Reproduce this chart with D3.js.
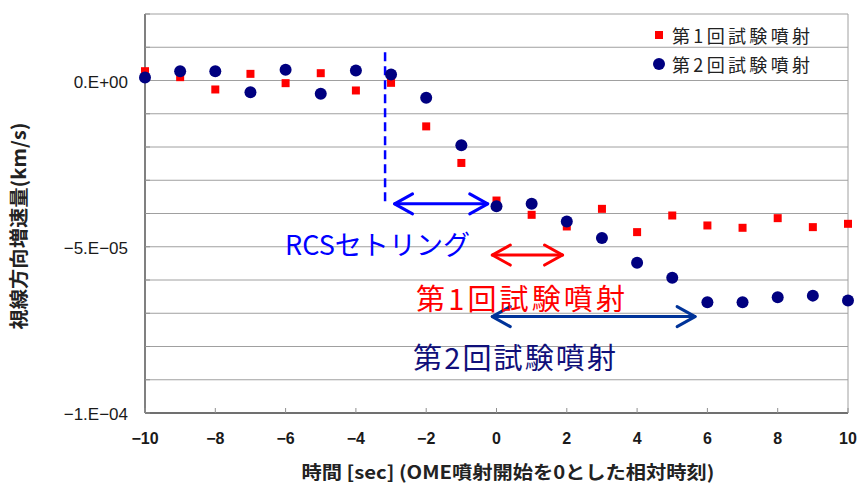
<!doctype html>
<html lang="ja">
<head>
  <meta charset="utf-8">
  <title>視線方向増速量</title>
  <style>
    body { margin: 0; background: #fff; }
    svg { display: block; }
    .grid line { stroke: #a0a0a0; stroke-width: 1; }
    .tick-lbl { font-family: "Liberation Sans", Arial, sans-serif; font-size: 17px; fill: #1a1a1a; }
    .jp { font-family: "Noto Sans CJK JP", sans-serif; }
  </style>
</head>
<body>
  <div id="chart"></div>
  <script src="https://d3js.org/d3.v7.min.js"></script>
  <script>
    // time [sec] relative to OME firing start
    const times = [-10, -9, -8, -7, -6, -5, -4, -3, -2, -1, 0, 1, 2, 3, 4, 5, 6, 7, 8, 9, 10];
    // line-of-sight delta-V, units of 1e-6 km/s
    const firing1 = [2.8, 1.0, -2.7, 2.0, -0.8, 2.2, -3.0, -0.7, -13.8, -24.8, -36.1, -40.4, -43.9, -38.6, -45.6, -40.6, -43.6, -44.3, -41.4, -44.1, -43.1];
    const firing2 = [0.9, 2.8, 2.8, -3.5, 3.2, -4.0, 3.0, 1.8, -5.2, -19.5, -37.8, -37.1, -42.4, -47.4, -54.8, -59.3, -66.7, -66.7, -65.2, -64.7, -66.2];
    const xTicks = [-10, -8, -6, -4, -2, 0, 2, 4, 6, 8, 10];
    const yTickLabels = [[0, '0.E+00'], [-50e-6, '\u22125.E\u221205'], [-100e-6, '\u22121.E\u221204']];
    const seriesNames = ['第1回試験噴射', '第2回試験噴射'];

    const width = 860, height = 488;
    const margin = { left: 145, right: 12, top: 14, bottom: 75 };

    const svg = d3.select('#chart').append('svg')
      .attr('width', width)
      .attr('height', height);

    const x = d3.scaleLinear().domain([-10, 10]).range([margin.left, width - margin.right]);
    const y = d3.scaleLinear().domain([-100e-6, 20e-6]).range([height - margin.bottom, margin.top]);

    // horizontal grid every 1e-5
    const gridVals = d3.range(-100e-6, 20.1e-6, 10e-6);
    svg.append('g').attr('class', 'grid')
      .selectAll('line')
      .data(gridVals)
      .join('line')
      .attr('x1', x(-10)).attr('x2', x(10))
      .attr('y1', d => y(d)).attr('y2', d => y(d));

    // right border
    svg.append('line')
      .attr('x1', x(10)).attr('x2', x(10))
      .attr('y1', y(20e-6)).attr('y2', y(-100e-6))
      .attr('stroke', '#a0a0a0');

    // left and bottom axis lines
    svg.append('line')
      .attr('x1', x(-10)).attr('x2', x(-10))
      .attr('y1', y(20e-6)).attr('y2', y(-100e-6))
      .attr('stroke', '#808080').attr('stroke-width', 2);
    svg.append('line')
      .attr('x1', x(-10)).attr('x2', x(10))
      .attr('y1', y(-100e-6)).attr('y2', y(-100e-6))
      .attr('stroke', '#707070').attr('stroke-width', 2);

    // small inner tick marks
    svg.append('g').selectAll('line')
      .data(xTicks)
      .join('line')
      .attr('x1', d => x(d)).attr('x2', d => x(d))
      .attr('y1', y(-100e-6)).attr('y2', y(-100e-6) - 5)
      .attr('stroke', '#909090');
    svg.append('g').selectAll('line')
      .data(gridVals)
      .join('line')
      .attr('x1', x(-10)).attr('x2', x(-10) + 5)
      .attr('y1', d => y(d)).attr('y2', d => y(d))
      .attr('stroke', '#909090');

    // tick labels
    svg.append('g').selectAll('text')
      .data(xTicks)
      .join('text')
      .attr('class', 'tick-lbl')
      .attr('x', d => x(d))
      .attr('y', y(-100e-6) + 31)
      .attr('text-anchor', 'middle')
      .attr('font-weight', 'bold')
      .style('font-size', '16px')
      .text(d => d < 0 ? '\u2212' + Math.abs(d) : d);

    svg.append('g').selectAll('text')
      .data(yTickLabels)
      .join('text')
      .attr('class', 'tick-lbl')
      .attr('x', x(-10) - 17)
      .attr('y', d => y(d[0]) + 7)
      .attr('text-anchor', 'end')
      .text(d => d[1]);

    // axis titles
    svg.append('text')
      .attr('class', 'jp')
      .attr('transform', `translate(26,${226}) rotate(-90)`)
      .attr('text-anchor', 'middle')
      .attr('font-size', 19).attr('font-weight', 'bold').attr('fill', '#222')
      .attr('textLength', 207).attr('lengthAdjust', 'spacingAndGlyphs')
      .text('視線方向増速量(km/s)');

    svg.append('text')
      .attr('class', 'jp')
      .attr('x', 508).attr('y', 479)
      .attr('text-anchor', 'middle')
      .attr('font-size', 18).attr('font-weight', 'bold').attr('fill', '#222')
      .attr('textLength', 413).attr('lengthAdjust', 'spacingAndGlyphs')
      .text('時間 [sec] (OME噴射開始を0とした相対時刻)');

    // dashed vertical line (RCS settling start)
    svg.append('line')
      .attr('x1', x(-3.17)).attr('x2', x(-3.17))
      .attr('y1', y(8.5e-6)).attr('y2', y(-37e-6))
      .attr('stroke', '#0000ff').attr('stroke-width', 2.5)
      .attr('stroke-dasharray', '9,5');

    // data points
    const s1 = times.map((t, i) => ({ t, v: firing1[i] * 1e-6 }));
    const s2 = times.map((t, i) => ({ t, v: firing2[i] * 1e-6 }));

    svg.append('g').selectAll('rect')
      .data(s1)
      .join('rect')
      .attr('x', d => x(d.t) - 4)
      .attr('y', d => y(d.v) - 4)
      .attr('width', 8).attr('height', 8)
      .attr('fill', '#ff0000');

    svg.append('g').selectAll('circle')
      .data(s2)
      .join('circle')
      .attr('cx', d => x(d.t))
      .attr('cy', d => y(d.v))
      .attr('r', 6)
      .attr('fill', '#000080');

    // double headed arrows
    function arrow(x0, x1, yv, color, w) {
      const g = svg.append('g')
        .attr('stroke', color).attr('stroke-width', w)
        .attr('fill', 'none').attr('stroke-linecap', 'round').attr('stroke-linejoin', 'round');
      const a = x(x0), b = x(x1), yy = y(yv);
      g.append('line').attr('x1', a).attr('x2', b).attr('y1', yy).attr('y2', yy);
      g.append('path').attr('d', `M${a + 18},${yy - 10}L${a},${yy}L${a + 18},${yy + 10}`);
      g.append('path').attr('d', `M${b - 18},${yy - 10}L${b},${yy}L${b - 18},${yy + 10}`);
    }
    arrow(-2.9, -0.25, -37.1e-6, '#0000ff', 3);
    arrow(-0.12, 1.88, -52.5e-6, '#ff0000', 3);
    arrow(-0.12, 5.65, -71e-6, '#003399', 3);

    // annotations
    svg.append('text').attr('class', 'jp')
      .attr('x', 285).attr('y', 255)
      .attr('font-size', 27).attr('fill', '#0000ff')
      .attr('textLength', 185).attr('lengthAdjust', 'spacingAndGlyphs')
      .text('RCSセトリング');
    svg.append('text').attr('class', 'jp')
      .attr('x', 416).attr('y', 310)
      .attr('font-size', 29).attr('fill', '#ff0000')
      .attr('textLength', 209).attr('lengthAdjust', 'spacing')
      .text('第1回試験噴射');
    svg.append('text').attr('class', 'jp')
      .attr('x', 413).attr('y', 369)
      .attr('font-size', 29).attr('fill', '#10107a')
      .attr('textLength', 203).attr('lengthAdjust', 'spacing')
      .text('第2回試験噴射');

    // legend
    const legend = svg.append('g').attr('transform', 'translate(659,0)');
    legend.append('rect').attr('x', -4).attr('y', 31).attr('width', 8).attr('height', 8).attr('fill', '#ff0000');
    legend.append('circle').attr('cx', 0).attr('cy', 64).attr('r', 6).attr('fill', '#000080');
    legend.selectAll('text')
      .data(seriesNames)
      .join('text')
      .attr('class', 'jp')
      .attr('x', 13)
      .attr('y', (d, i) => 43 + i * 29)
      .attr('font-size', 18).attr('fill', '#222')
      .attr('textLength', 138).attr('lengthAdjust', 'spacing')
      .text(d => d);
  </script>
</body>
</html>
